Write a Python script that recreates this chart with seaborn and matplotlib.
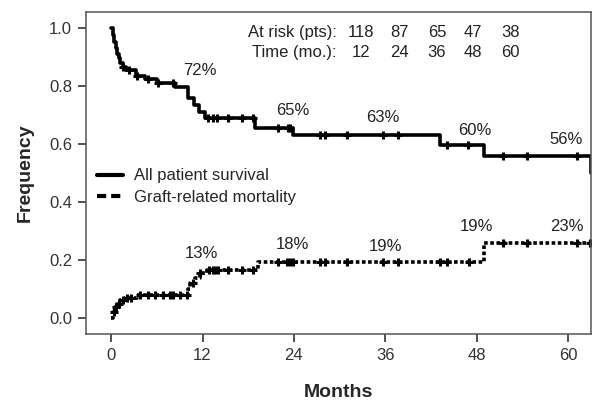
import matplotlib
matplotlib.use("Agg")
import matplotlib.pyplot as plt
from matplotlib.lines import Line2D
import numpy as np
import pandas as pd
import seaborn as sns

# step curves (months, value)
surv_t = [0, 0.2, 0.4, 0.6, 0.8, 1.0, 1.2, 1.5, 1.9, 3.2, 4.5, 6.0, 8.4, 10.1, 10.9, 11.6, 12.3, 18.9, 23.9, 43.2, 49.0, 63.0]
surv_v = [1.00, 0.975, 0.95, 0.93, 0.91, 0.895, 0.88, 0.865, 0.855, 0.835, 0.825, 0.81, 0.797, 0.76, 0.735, 0.71, 0.69, 0.655, 0.63, 0.597, 0.559, 0.50]
surv_cens = [1.6, 2.3, 3.4, 4.9, 6.2, 8.1, 12.7, 13.4, 13.9, 15.3, 17.2, 18.6, 21.9, 23.2, 23.5,
             27.4, 28.1, 31.0, 35.7, 37.7, 44.1, 46.9, 51.5, 54.6, 61.2]

mort_t = [0, 0.2, 0.5, 0.8, 1.2, 1.8, 3.4, 10.1, 10.4, 11.0, 11.7, 12.6, 19.3, 49.0, 63.0]
mort_v = [0.0, 0.02, 0.038, 0.05, 0.062, 0.07, 0.08, 0.10, 0.12, 0.137, 0.155, 0.165, 0.193, 0.26, 0.26]
mort_cens = [0.4, 0.7, 1.0, 1.5, 2.1, 2.6, 3.8, 4.9, 5.8, 6.8, 7.7, 8.1, 9.1, 10.0, 10.8, 11.7, 12.9, 13.4, 13.7, 14.0,
             15.3, 17.2, 18.6, 21.9, 23.1, 23.5, 23.9, 27.4, 28.1, 31.0, 35.7, 37.7, 43.2, 44.1, 47.0,
             51.5, 54.6, 61.2, 62.9]

surv_pct = ["72%", "65%", "63%", "60%", "56%"]
surv_pct_pos = [(11.7, 0.855), (23.8, 0.717), (35.7, 0.69), (47.8, 0.648), (59.8, 0.614)]
mort_pct = ["13%", "18%", "19%", "19%", "23%"]
mort_pct_pos = [(11.8, 0.224), (23.8, 0.255), (36.0, 0.248), (48.0, 0.314), (59.8, 0.314)]

at_risk = ["118", "87", "65", "47", "38"]
time_mo = ["12", "24", "36", "48", "60"]
table_x = [32.8, 37.9, 42.8, 47.5, 52.4]

sns.set_style("ticks")
plt.rcParams['font.family'] = ['Liberation Sans', 'DejaVu Sans']
FS = 12
TXT = "#222222"

fig = plt.figure(figsize=(5.92, 4.0), dpi=100)
ax = fig.add_axes([0.1453, 0.165, 0.8527, 0.805])


def step_at(ts, vs, x):
    idx = np.searchsorted(ts, x, side="right") - 1
    return np.asarray(vs)[idx]


surv = pd.DataFrame({"t": surv_t, "v": surv_v})
mort = pd.DataFrame({"t": mort_t, "v": mort_v})

sns.lineplot(data=surv, x="t", y="v", ax=ax, drawstyle="steps-post", color="black",
             lw=2.6, estimator=None, sort=False)
sns.lineplot(data=mort, x="t", y="v", ax=ax, drawstyle="steps-post", color="black",
             lw=2.6, estimator=None, sort=False, linestyle=(0, (1, 0.7)))

ax.plot(surv_cens, step_at(surv_t, surv_v, surv_cens), ls="none", marker="+",
        ms=6, mew=2.2, color="black")
ax.plot(mort_cens, step_at(mort_t, mort_v, mort_cens), ls="none", marker="+",
        ms=6, mew=2.2, color="black")

for lab, (x, y) in zip(surv_pct, surv_pct_pos):
    ax.text(x, y, lab, ha="center", va="center", fontsize=FS, color=TXT)
for lab, (x, y) in zip(mort_pct, mort_pct_pos):
    ax.text(x, y, lab, ha="center", va="center", fontsize=FS, color=TXT)

ax.text(29.6, 0.983, "At risk (pts):", ha="right", va="center", fontsize=FS, color=TXT)
ax.text(29.6, 0.917, "Time (mo.):", ha="right", va="center", fontsize=FS, color=TXT)
for x, a, t in zip(table_x, at_risk, time_mo):
    ax.text(x, 0.983, a, ha="center", va="center", fontsize=FS, color=TXT)
    ax.text(x, 0.917, t, ha="center", va="center", fontsize=FS, color=TXT)

handles = [Line2D([], [], color="black", lw=3),
           Line2D([], [], color="black", lw=3, linestyle=(0, (2.2, 1.2)))]
ax.legend(handles, ["All patient survival", "Graft-related mortality"], loc="center left",
          bbox_to_anchor=(0.022, 0.458), frameon=False, fontsize=FS, handlelength=1.55,
          handletextpad=0.65, labelspacing=0.38, borderaxespad=0, borderpad=0)

ax.set_xlim(-3.3, 63.0)
ax.set_ylim(-0.055, 1.055)
ax.set_xticks([0, 12, 24, 36, 48, 60])
ax.set_yticks([0.0, 0.2, 0.4, 0.6, 0.8, 1.0])
ax.set_yticklabels(["0.0", "0.2", "0.4", "0.6", "0.8", "1.0"])
ax.tick_params(direction="out", length=6, width=1.2, labelsize=FS, labelcolor="#333333",
               color="#333333", pad=4)
for s in ax.spines.values():
    s.set_color("#555555")
    s.set_linewidth(1.1)
ax.set_xlabel("Months", fontsize=14, fontweight="bold", labelpad=15)
ax.set_ylabel("Frequency", fontsize=14, fontweight="bold", labelpad=11)

fig.savefig("out.png", dpi=100)
